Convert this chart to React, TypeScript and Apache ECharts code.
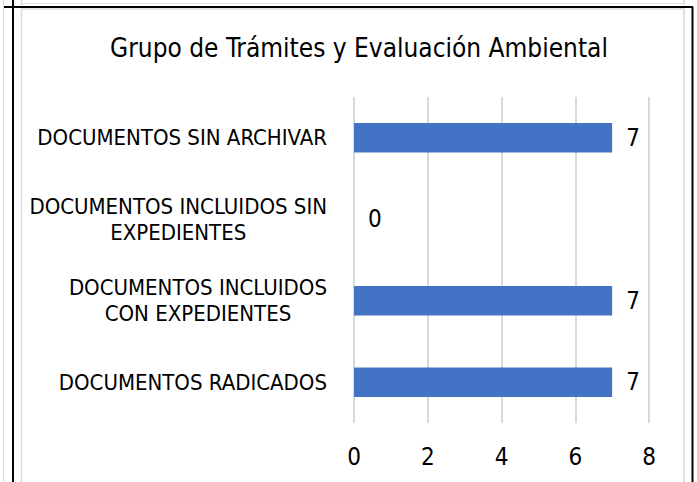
import React, { useEffect, useRef } from "react";
import * as echarts from "echarts";

const categories = [
  "DOCUMENTOS SIN ARCHIVAR",
  "DOCUMENTOS INCLUIDOS SIN\nEXPEDIENTES",
  "DOCUMENTOS INCLUIDOS\nCON EXPEDIENTES",
  "DOCUMENTOS RADICADOS",
];
const values = [7, 0, 7, 7];
const titleText = "Grupo de Trámites y Evaluación Ambiental";

const FONT = '"DejaVu Sans Condensed", "Liberation Sans", sans-serif';

export default function App() {
  const ref = useRef<HTMLDivElement>(null);
  useEffect(() => {
    const chart = echarts.init(ref.current!, null, { renderer: "svg" });
    chart.setOption({
      animation: false,
      backgroundColor: "#ffffff",
      title: {
        text: titleText,
        left: 354,
        top: 30,
        textAlign: "center",
        textStyle: { fontFamily: FONT, fontSize: 26, fontWeight: "normal", color: "#000" },
      },
      grid: { left: 354, right: 48, top: 97, bottom: 59, outerBoundsMode: "none" },
      xAxis: {
        type: "value",
        min: 0,
        max: 8,
        interval: 2,
        axisLine: { show: false },
        axisTick: { show: false },
        splitLine: { lineStyle: { color: "#d9d9d9", width: 2 } },
        axisLabel: { fontFamily: FONT, fontSize: 24, color: "#000", margin: 22 },
      },
      yAxis: {
        type: "category",
        inverse: true,
        data: categories,
        axisLine: { show: false },
        axisTick: { show: false },
        axisLabel: {
          margin: 27,
          color: "#000",
          fontFamily: FONT,
          fontSize: 22,
          lineHeight: 26,
          formatter: (v: string) => v.split("\n").map((l) => `{c|${l}}`).join("\n"),
          rich: {
            c: { align: "center", fontFamily: FONT, fontSize: 22, lineHeight: 26, color: "#000" },
          },
        },
      },
      series: [
        {
          type: "bar",
          data: values,
          barCategoryGap: "64%",
          itemStyle: { color: "#4472C4" },
          label: {
            show: true,
            position: "right",
            distance: 14,
            fontFamily: FONT,
            fontSize: 24,
            color: "#000",
          },
        },
      ],
      graphic: [
        { type: "line", shape: { x1: 3.5, y1: 0, x2: 3.5, y2: 482 }, style: { stroke: "#d9d9d9", lineWidth: 1 } },
        { type: "line", shape: { x1: 21.5, y1: 0, x2: 21.5, y2: 5 }, style: { stroke: "#d9d9d9", lineWidth: 1.5 } },
        { type: "line", shape: { x1: 21, y1: 3.5, x2: 684, y2: 3.5 }, style: { stroke: "#e0e0e0", lineWidth: 1 } },
        { type: "line", shape: { x1: 684, y1: 0, x2: 684, y2: 5 }, style: { stroke: "#d9d9d9", lineWidth: 1.5 } },
        { type: "rect", shape: { x: 21.5, y: 9, width: 662.5, height: 490 }, style: { fill: "none", stroke: "#d9d9d9", lineWidth: 1.5 } },
        { type: "line", shape: { x1: 4, y1: 7, x2: 693, y2: 7 }, style: { stroke: "#000", lineWidth: 2 } },
        { type: "line", shape: { x1: 13, y1: 0, x2: 13, y2: 482 }, style: { stroke: "#000", lineWidth: 2 } },
        { type: "line", shape: { x1: 692.5, y1: 7, x2: 692.5, y2: 482 }, style: { stroke: "#000", lineWidth: 2 } },
      ],
    });
    return () => chart.dispose();
  }, []);
  return (
    <div
      ref={ref}
      style={{ position: "fixed", left: 0, top: 0, width: 697, height: 482 }}
    />
  );
}
